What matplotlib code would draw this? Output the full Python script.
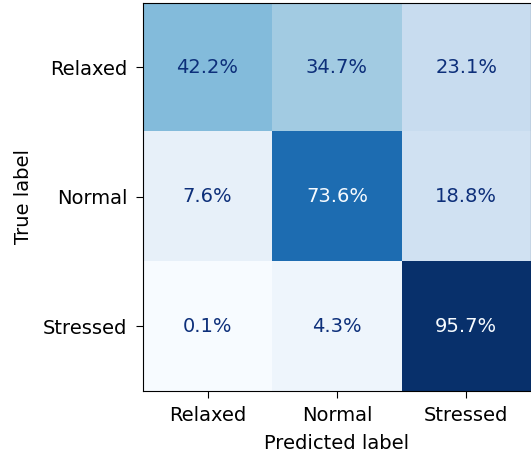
import numpy as np
import matplotlib
matplotlib.use("Agg")
import matplotlib.pyplot as plt

labels = ["Relaxed", "Normal", "Stressed"]
cm_pct = np.array([
    [42.2, 34.7, 23.1],
    [7.6, 73.6, 18.8],
    [0.1, 4.3, 95.7],
])

plt.rcParams["font.size"] = 14

fig = plt.figure(figsize=(5.31, 4.54), dpi=100)
ax = fig.add_axes([0.269, 0.139, 0.731, 0.855])

cmap = plt.cm.Blues
im = ax.imshow(cm_pct, cmap=cmap, interpolation="nearest")

# text colour flips at the midpoint, like sklearn's display
thresh = (cm_pct.max() + cm_pct.min()) / 2.0
for i in range(cm_pct.shape[0]):
    for j in range(cm_pct.shape[1]):
        val = cm_pct[i, j]
        color = cmap(0.0) if val > thresh else "#0d2f7a"
        ax.text(j, i, f"{val:.1f}%", ha="center", va="center", color=color, fontsize=14)

ax.set_xticks(range(len(labels)))
ax.set_xticklabels(labels)
ax.set_yticks(range(len(labels)))
ax.set_yticklabels(labels)
ax.tick_params(length=5, pad=6)
ax.set_xlabel("Predicted label", labelpad=6)
ax.set_ylabel("True label", labelpad=7)

plt.savefig("out.png", dpi=100)
